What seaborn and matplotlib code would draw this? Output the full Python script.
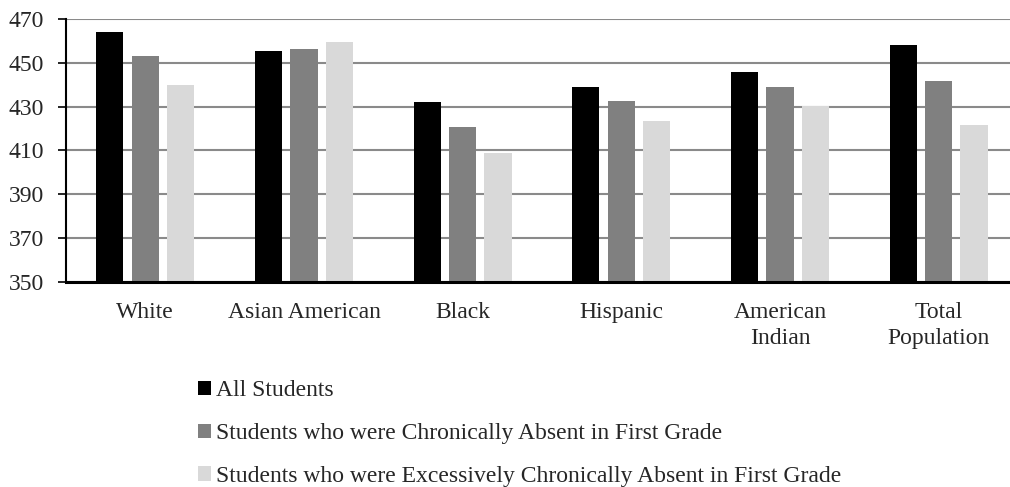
import matplotlib
matplotlib.use("Agg")
import matplotlib.pyplot as plt
import seaborn as sns
import pandas as pd

groups = ["White", "Asian American", "Black", "Hispanic", "American\nIndian", "Total\nPopulation"]
series = [
    "All Students",
    "Students who were Chronically Absent in First Grade",
    "Students who were Excessively Chronically Absent in First Grade",
]
all_students = [464.2, 455.5, 432.1, 439.1, 445.6, 458.3]
chronic = [453.1, 456.1, 420.8, 432.4, 438.9, 441.7]
excessive = [440.0, 459.5, 408.8, 423.3, 430.4, 421.6]
colors = ["#000000", "#808080", "#d9d9d9"]
yticks = [350, 370, 390, 410, 430, 450, 470]

rows = []
for name, vals in zip(series, [all_students, chronic, excessive]):
    for g, v in zip(groups, vals):
        rows.append({"group": g, "series": name, "score": v})
df = pd.DataFrame(rows)

sns.set_style("white")
plt.rcParams["font.family"] = ["Liberation Serif", "DejaVu Serif"]

FS = 17

fig = plt.figure(figsize=(10.1, 4.87), dpi=100)
ax = fig.add_axes([0.0653, 0.421, 0.9347, 0.540])

sns.barplot(data=df, x="group", y="score", hue="series", palette=colors,
            width=0.67, gap=0.23, saturation=1, ax=ax, legend=True,
            linewidth=0, errorbar=None)

ax.set_ylim(350, 470)
ax.set_yticks(yticks)
ax.set_yticklabels([str(t) for t in yticks], fontsize=FS)
ax.set_xlim(-0.5, 5.45)
ax.set_xlabel("")
ax.set_ylabel("")
ax.yaxis.grid(True, color="#8a8a8a", linewidth=1.5)
ax.set_axisbelow(True)
for s in ["top", "right"]:
    ax.spines[s].set_visible(False)
ax.spines["left"].set_color("black")
ax.spines["left"].set_linewidth(1.5)
ax.spines["bottom"].set_color("black")
ax.spines["bottom"].set_linewidth(2.2)
ax.tick_params(axis="y", which="major", left=True, length=6, width=1.2,
               color="black", pad=10)
ax.tick_params(axis="x", bottom=False, labelsize=FS, pad=11)
for lbl in ax.get_xticklabels():
    lbl.set_linespacing(1.28)

handles, labels = ax.get_legend_handles_labels()
ax.get_legend().remove()
fig.legend(handles, labels, loc="upper left", bbox_to_anchor=(0.196, 0.219),
           frameon=False, fontsize=FS, ncol=1, labelspacing=0.92,
           handlelength=0.55, handleheight=0.55, handletextpad=0.2,
           borderaxespad=0, borderpad=0)

fig.savefig("out.png", dpi=100)
